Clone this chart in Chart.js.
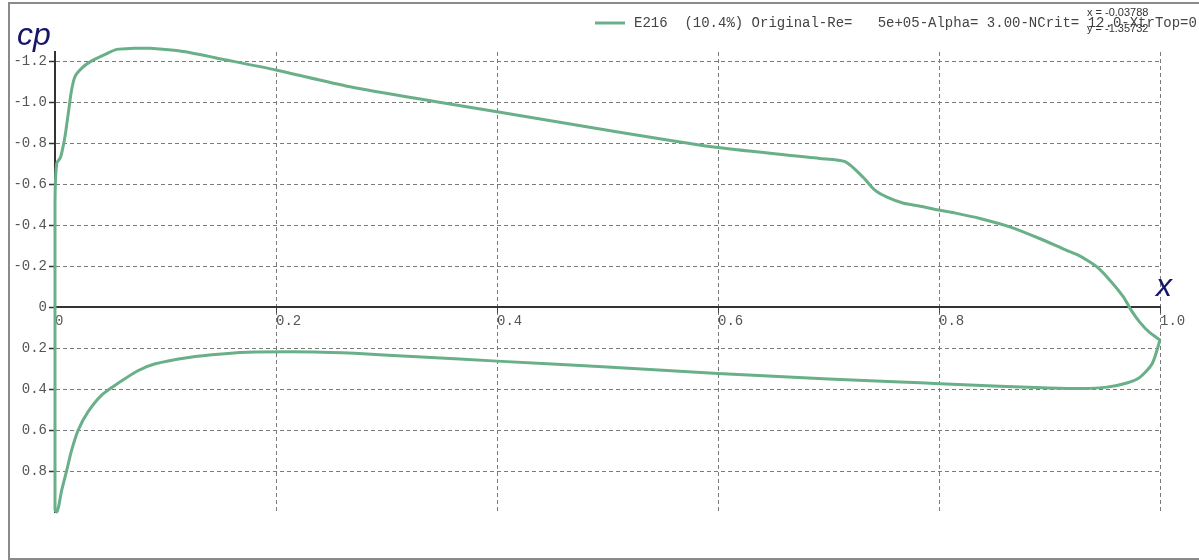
<!DOCTYPE html>
<html>
<head>
<meta charset="utf-8">
<script src="https://cdn.jsdelivr.net/npm/chart.js@4/dist/chart.umd.min.js"></script>
<style>
  html, body { margin: 0; padding: 0; background: #fff; }
  #wrap { position: relative; width: 1199px; height: 560px; overflow: hidden; }
</style>
</head>
<body>
<div id="wrap"><canvas id="cp" width="1199" height="560"></canvas></div>
<script>
// Pressure distribution of the E216 section, upper surface from trailing edge to leading edge
const seriesLabel = 'E216  (10.4%) Original-Re=   5e+05-Alpha= 3.00-NCrit= 12.0-XtrTop=0';
const upperX  = [1.000, 0.990, 0.982, 0.974, 0.967, 0.955, 0.943, 0.934, 0.925, 0.915, 0.891, 0.864, 0.837, 0.815, 0.801, 0.783, 0.768, 0.753, 0.742, 0.731, 0.715, 0.692, 0.600, 0.500, 0.400, 0.345, 0.267, 0.200, 0.155, 0.116, 0.086, 0.071, 0.056, 0.044, 0.032, 0.024, 0.018, 0.015, 0.012, 0.009, 0.006, 0.0045, 0.0015, 0.0000];
const upperCp = [0.160, 0.120, 0.075, 0.015, -0.050, -0.130, -0.197, -0.230, -0.257, -0.279, -0.336, -0.393, -0.434, -0.460, -0.474, -0.494, -0.508, -0.538, -0.572, -0.637, -0.711, -0.727, -0.780, -0.865, -0.955, -1.004, -1.077, -1.159, -1.208, -1.249, -1.265, -1.265, -1.260, -1.232, -1.200, -1.167, -1.126, -1.061, -0.947, -0.833, -0.752, -0.727, -0.703, -0.507];
// Lower surface from leading edge back to trailing edge
const lowerX  = [0.0000, 0.0015, 0.003, 0.006, 0.0106, 0.015, 0.021, 0.030, 0.042, 0.056, 0.075, 0.090, 0.121, 0.151, 0.181, 0.235, 0.271, 0.332, 0.400, 0.500, 0.600, 0.700, 0.765, 0.801, 0.855, 0.894, 0.930, 0.952, 0.970, 0.982, 0.993, 1.000];
const lowerCp = [0.990, 1.000, 0.980, 0.895, 0.797, 0.699, 0.600, 0.510, 0.430, 0.375, 0.310, 0.277, 0.245, 0.228, 0.219, 0.218, 0.225, 0.243, 0.263, 0.292, 0.324, 0.350, 0.365, 0.373, 0.386, 0.393, 0.397, 0.390, 0.370, 0.341, 0.275, 0.160];

const xTicks = [0, 0.2, 0.4, 0.6, 0.8, 1.0];
const xTickLabels = ['0', '0.2', '0.4', '0.6', '0.8', '1.0'];
const yTicks = [-1.2, -1.0, -0.8, -0.6, -0.4, -0.2, 0, 0.2, 0.4, 0.6, 0.8];
const yTickLabels = ['-1.2', '-1.0', '-0.8', '-0.6', '-0.4', '-0.2', '0', '0.2', '0.4', '0.6', '0.8'];
const cursorReadout = ['x = -0.03788', 'y = -1.35732'];

const lineColor = '#69b088';
const monoFont = '"Liberation Mono", "DejaVu Sans Mono", monospace';

const points = upperX.map((x, i) => ({ x, y: upperCp[i] }))
  .concat(lowerX.map((x, i) => ({ x, y: lowerCp[i] })));

// Frame, legend entry, axis captions and cursor readout
const decorations = {
  id: 'decorations',
  beforeDraw(chart) {
    const ctx = chart.ctx;
    ctx.save();
    ctx.fillStyle = '#fff';
    ctx.fillRect(0, 0, chart.width, chart.height);
    ctx.strokeStyle = '#8a8a8a';
    ctx.lineWidth = 2;
    ctx.strokeRect(9, 3, chart.width + 10, chart.height - 4);
    ctx.restore();
  },
  afterDraw(chart) {
    const ctx = chart.ctx;
    ctx.save();
    // legend
    ctx.strokeStyle = lineColor;
    ctx.lineWidth = 3;
    ctx.beginPath();
    ctx.moveTo(595, 23);
    ctx.lineTo(625, 23);
    ctx.stroke();
    ctx.fillStyle = '#444';
    ctx.font = '14px ' + monoFont;
    ctx.textBaseline = 'middle';
    ctx.textAlign = 'left';
    ctx.fillText(chart.data.datasets[0].label, 634, 23);
    // cursor readout
    ctx.font = '11px "Liberation Sans", Arial, sans-serif';
    ctx.fillStyle = '#333';
    ctx.fillText(cursorReadout[0], 1087, 13);
    ctx.fillText(cursorReadout[1], 1087, 29);
    // axis captions
    ctx.fillStyle = '#15156a';
    ctx.font = 'italic 32px "Liberation Sans", Arial, sans-serif';
    ctx.textBaseline = 'alphabetic';
    ctx.fillText('cp', 17, 45);
    ctx.fillText('x', 1156, 296);
    ctx.restore();
  }
};

new Chart(document.getElementById('cp'), {
  type: 'scatter',
  data: {
    datasets: [{
      label: seriesLabel,
      data: points,
      showLine: true,
      borderColor: lineColor,
      backgroundColor: lineColor,
      borderWidth: 3,
      pointRadius: 0,
      tension: 0.25,
      clip: false
    }]
  },
  options: {
    responsive: false,
    animation: false,
    devicePixelRatio: 1,
    layout: { padding: { top: 52, right: 39, bottom: 48, left: 0 } },
    plugins: { legend: { display: false }, tooltip: { enabled: false } },
    scales: {
      x: {
        type: 'linear',
        position: { y: 0 },
        min: 0,
        max: 1,
        afterBuildTicks: s => { s.ticks = xTicks.map(v => ({ value: v })); },
        ticks: {
          callback: (v, i) => xTickLabels[i],
          align: 'start',
          padding: 1,
          color: '#555',
          font: { family: monoFont, size: 14 },
          maxRotation: 0,
          autoSkip: false
        },
        grid: {
          color: c => (c.tick && c.tick.value === 0) ? 'rgba(0,0,0,0)' : '#7a7a7a',
          lineWidth: 1,
          tickLength: 5,
          tickColor: '#444',
          tickWidth: 1
        },
        border: { display: true, color: '#333', width: 2, dash: [4, 3] }
      },
      y: {
        type: 'linear',
        position: 'left',
        reverse: true,
        min: -1.247,
        max: 1.0,
        afterFit: s => { s.width = 55; },
        afterBuildTicks: s => { s.ticks = yTicks.map(v => ({ value: v })); },
        ticks: {
          callback: (v, i) => yTickLabels[i],
          padding: 2,
          color: '#555',
          font: { family: monoFont, size: 14 },
          autoSkip: false
        },
        grid: {
          color: c => (c.tick && c.tick.value === 0) ? 'rgba(0,0,0,0)' : '#7a7a7a',
          lineWidth: 1,
          tickLength: 6,
          tickColor: '#333',
          tickWidth: 1.5
        },
        border: { display: true, color: '#333', width: 2, dash: [4, 3] }
      }
    }
  },
  plugins: [decorations]
});
</script>
</body>
</html>
